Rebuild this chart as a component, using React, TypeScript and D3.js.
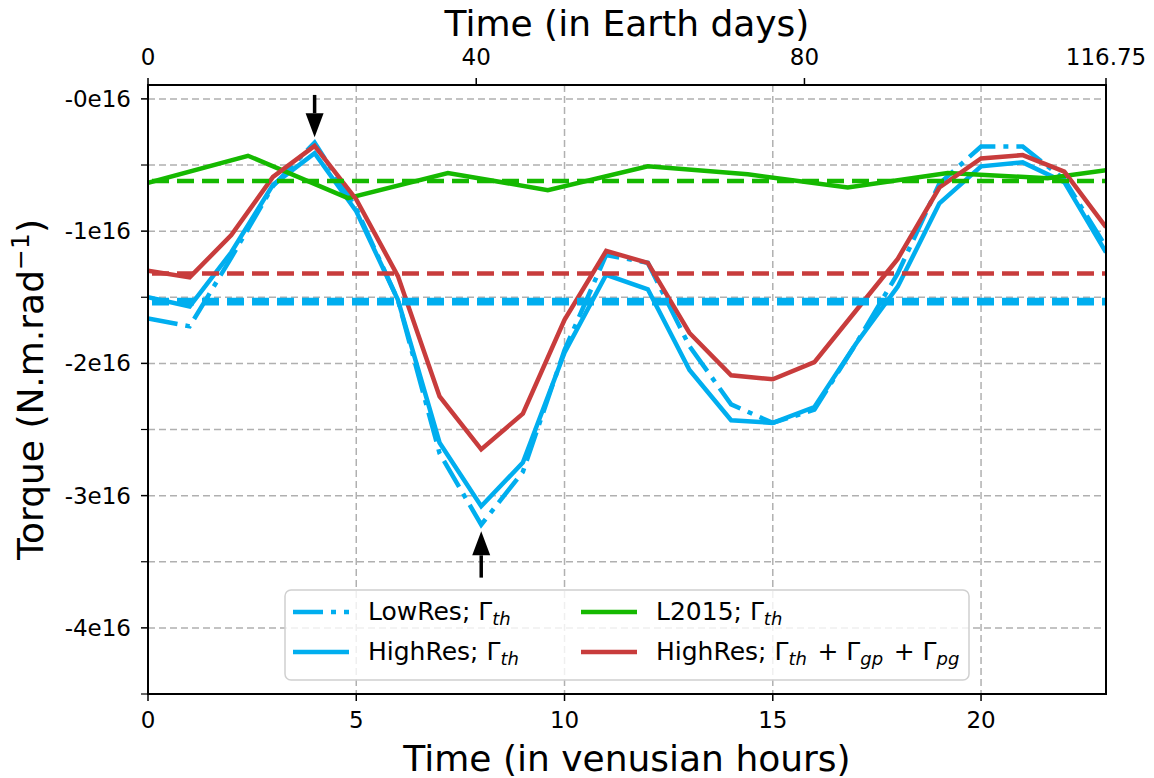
import * as d3 from 'd3'

// venusian hours sampled by the HighRes / LowRes runs
const hours = [0, 1, 2, 3, 4, 5, 6, 7, 8, 9, 10, 11, 12, 13, 14, 15, 16, 17, 18, 19, 20, 21, 22, 23]

// torque in units of 1e16 N.m.rad^-1
const lowRes = [-1.66, -1.72, -1.2, -0.66, -0.33, -0.83, -1.52, -2.68, -3.22, -2.82, -1.9, -1.18, -1.24, -1.87, -2.31, -2.45, -2.35, -1.85, -1.32, -0.64, -0.36, -0.36, -0.61, -1.12]
const highRes = [-1.5, -1.57, -1.16, -0.65, -0.41, -0.85, -1.52, -2.6, -3.08, -2.75, -1.92, -1.33, -1.44, -2.05, -2.43, -2.45, -2.33, -1.85, -1.42, -0.79, -0.51, -0.48, -0.63, -1.16]
const highResAll = [-1.3, -1.35, -1.03, -0.59, -0.355, -0.76, -1.34, -2.25, -2.65, -2.38, -1.67, -1.15, -1.24, -1.77, -2.09, -2.12, -1.99, -1.6, -1.21, -0.67, -0.45, -0.425, -0.55, -0.97]

// L2015 is sampled on a coarser grid
const l2015Hours = [0, 2.4, 4.8, 7.2, 9.6, 12, 14.4, 16.8, 19.2, 21.6, 23]
const l2015 = [-0.635, -0.43, -0.75, -0.56, -0.69, -0.51, -0.57, -0.67, -0.56, -0.6, -0.54]

// time-averaged values (dashed lines)
const meanLowRes = -1.52
const meanHighRes = -1.545
const meanHighResAll = -1.32
const meanL2015 = -0.62

const xTicks = [0, 5, 10, 15, 20]
const xGrid = [5, 10, 15, 20]
const earthTicks = [0, 40, 80, 116.75]
const yMajor = [0, -1, -2, -3, -4]
const yMinor = [-0.5, -1.5, -2.5, -3.5, -4.5]
const yTickLabels = ['-0e16', '-1e16', '-2e16', '-3e16', '-4e16']

const arrows = [
  { hour: 4, from: 0.03, to: -0.29 },
  { hour: 8, from: -3.62, to: -3.27 },
]

const BLUE = '#00aeef'
const GREEN = '#15b900'
const RED = '#c83c3c'
const FONT = '"DejaVu Sans", sans-serif'
const DASHDOT = '30,8,5,8'

const W = 1154
const H = 778
const left = 148
const right = 1106
const top = 85
const bottom = 694

export default function App() {
  const x = d3.scaleLinear().domain([0, 23]).range([left, right])
  const xEarth = d3.scaleLinear().domain([0, 116.75]).range([left, right])
  const y = d3.scaleLinear().domain([-4.5, 0.105]).range([bottom, top])

  const line = d3.line<[number, number]>()
    .x(d => x(d[0]))
    .y(d => y(d[1]))

  const zip = (xs: number[], ys: number[]) => xs.map((h, i) => [h, ys[i]] as [number, number])

  const series = [
    { values: zip(hours, lowRes), color: BLUE, dash: DASHDOT },
    { values: zip(hours, highRes), color: BLUE, dash: null },
    { values: zip(l2015Hours, l2015), color: GREEN, dash: null },
    { values: zip(hours, highResAll), color: RED, dash: null },
  ]

  const means = [
    { v: meanL2015, color: GREEN },
    { v: meanHighResAll, color: RED },
    { v: meanHighRes, color: BLUE },
    { v: meanLowRes, color: BLUE },
  ]

  const legendItems = [
    { col: 0, row: 0, color: BLUE, dash: DASHDOT, label: 'LowRes; ', terms: ['th'] },
    { col: 0, row: 1, color: BLUE, dash: null, label: 'HighRes; ', terms: ['th'] },
    { col: 1, row: 0, color: GREEN, dash: null, label: 'L2015; ', terms: ['th'] },
    { col: 1, row: 1, color: RED, dash: null, label: 'HighRes; ', terms: ['th', 'gp', 'pg'] },
  ]
  const legendX = [293, 581]
  const legendY = [612, 652]

  return (
    <svg width={W} height={H} style={{ position: 'absolute', left: 0, top: 0, background: '#fff' }} fontFamily={FONT}>
      <defs>
        <clipPath id="plot-clip">
          <rect x={left} y={top} width={right - left} height={bottom - top} />
        </clipPath>
      </defs>

      {/* grid */}
      <g stroke="#b0b0b0" strokeWidth={1.5} strokeDasharray="7,4">
        {[...yMajor, ...yMinor].map(v => (
          <line key={'gy' + v} x1={left} x2={right} y1={y(v)} y2={y(v)} />
        ))}
        {xGrid.map(h => (
          <line key={'gx' + h} x1={x(h)} x2={x(h)} y1={top} y2={bottom} />
        ))}
      </g>

      <g clipPath="url(#plot-clip)" fill="none" strokeWidth={4.5} strokeLinejoin="miter">
        {series.map((s, i) => (
          <path key={i} d={line(s.values) ?? ''} stroke={s.color} strokeDasharray={s.dash ?? undefined} />
        ))}
        {means.map((m, i) => (
          <line key={'m' + i} x1={left} x2={right} y1={y(m.v)} y2={y(m.v)} stroke={m.color} strokeDasharray="17,8" strokeDashoffset={-4} />
        ))}
      </g>

      {/* arrows */}
      {arrows.map((a, i) => {
        const ax = x(a.hour)
        const y0 = y(a.from)
        const y1 = y(a.to)
        const dir = y1 > y0 ? 1 : -1
        const headLen = 24
        return (
          <g key={'a' + i}>
            <line x1={ax} x2={ax} y1={y0} y2={y1 - dir * headLen} stroke="#000" strokeWidth={3.5} />
            <path d={`M${ax - 9},${y1 - dir * headLen}L${ax + 9},${y1 - dir * headLen}L${ax},${y1}Z`} fill="#000" />
          </g>
        )
      })}

      {/* legend */}
      <rect x={285} y={590} width={684} height={90} rx={6} fill="#fff" fillOpacity={0.8} stroke="#d0d0d0" strokeWidth={1.5} />
      {legendItems.map((it, i) => {
        const lx = legendX[it.col]
        const ly = legendY[it.row]
        return (
          <g key={'l' + i}>
            <line x1={lx} x2={lx + 56} y1={ly} y2={ly} stroke={it.color} strokeWidth={4.5} strokeDasharray={it.dash ?? undefined} />
            <text x={lx + 75} y={ly + 8} fontSize={25} fill="#000">
              {it.label}
              {it.terms.map((t, j) => (
                <tspan key={j}>
                  {j > 0 ? <tspan dx={8}>+</tspan> : null}
                  <tspan dx={j > 0 ? 8 : 0}>Γ</tspan>
                  <tspan fontStyle="italic" fontSize={18} dy={5}>{t}</tspan>
                  <tspan dy={-5}>{'\u200a'}</tspan>
                </tspan>
              ))}
            </text>
          </g>
        )
      })}

      {/* frame */}
      <rect x={left} y={top} width={right - left} height={bottom - top} fill="none" stroke="#000" strokeWidth={2} />

      {/* bottom axis */}
      {xTicks.map(h => (
        <g key={'xt' + h}>
          <line x1={x(h)} x2={x(h)} y1={bottom} y2={bottom + 7} stroke="#000" strokeWidth={1.5} />
          <text x={x(h)} y={728} fontSize={23} textAnchor="middle">{h}</text>
        </g>
      ))}
      <text x={(left + right) / 2} y={771} fontSize={36} textAnchor="middle">Time (in venusian hours)</text>

      {/* top axis */}
      {earthTicks.map(d => (
        <g key={'et' + d}>
          <line x1={xEarth(d)} x2={xEarth(d)} y1={top} y2={top - 7} stroke="#000" strokeWidth={1.5} />
          <text x={xEarth(d)} y={65} fontSize={23} textAnchor="middle">{d}</text>
        </g>
      ))}
      <text x={(left + right) / 2} y={36} fontSize={36} textAnchor="middle">Time (in Earth days)</text>

      {/* left axis */}
      {yMajor.map((v, i) => (
        <g key={'yt' + v}>
          <line x1={left} x2={left - 7} y1={y(v)} y2={y(v)} stroke="#000" strokeWidth={1.5} />
          <text x={131} y={y(v) + 8} fontSize={23} textAnchor="end">{yTickLabels[i]}</text>
        </g>
      ))}
      {yMinor.map(v => (
        <line key={'ym' + v} x1={left} x2={left - 7} y1={y(v)} y2={y(v)} stroke="#000" strokeWidth={1.2} />
      ))}
      <text transform={`translate(43,${(top + bottom) / 2}) rotate(-90)`} fontSize={36} textAnchor="middle">
        Torque (N.m.rad<tspan fontSize={25} dy={-14}>−1</tspan><tspan dy={14}>)</tspan>
      </text>
    </svg>
  )
}
